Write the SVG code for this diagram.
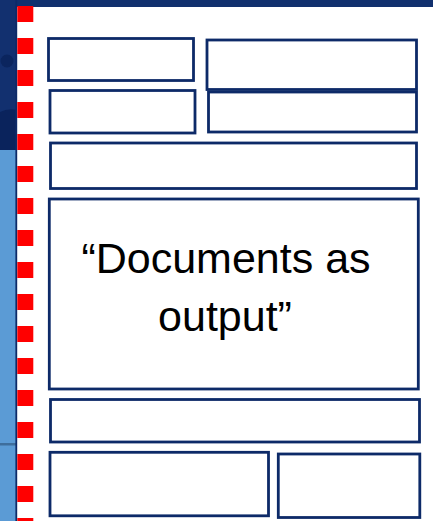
<svg xmlns="http://www.w3.org/2000/svg" width="433" height="521" viewBox="0 0 433 521">
  <style>
    .box { fill: #ffffff; stroke: #0d2a68; stroke-width: 2.8; }
    .label { font-family: "Liberation Sans", Arial, sans-serif; font-size: 43px; fill: #000000; text-anchor: middle; }
  </style>
  <g id="background">
    <rect x="0" y="0" width="433" height="521" fill="#ffffff"/>
    <rect x="0" y="0" width="433" height="7" fill="#11306e"/>
    <rect x="0" y="0" width="17" height="150" fill="#12306f"/>
    <path d="M0 112 Q8 108 17 110 L17 150 L0 150 Z" fill="#0a235c"/>
    <circle cx="7" cy="61" r="6.5" fill="#0b255e"/>
    <rect x="0" y="150" width="17" height="371" fill="#5b9bd5"/>
    <rect x="0" y="443" width="17" height="2.5" fill="#3e6e9c"/>
    <line x1="16.3" y1="0" x2="16.3" y2="521" stroke="#0d2a68" stroke-width="1.8"/>
    <line x1="25.3" y1="6" x2="25.3" y2="521" stroke="#ff0000" stroke-width="16" stroke-dasharray="16 16"/>
  </g>
  <g id="box-top-left"><rect class="box" x="48.5" y="38.5" width="145" height="42"/></g>
  <g id="box-top-right"><rect class="box" x="207" y="40" width="209.5" height="49.5"/></g>
  <g id="box-row2-left"><rect class="box" x="50" y="90.5" width="145" height="42.5"/></g>
  <g id="box-row2-right"><rect class="box" x="208.5" y="92" width="208" height="40"/></g>
  <g id="box-row3"><rect class="box" x="50.5" y="143" width="366" height="45.5"/></g>
  <g id="box-main">
    <rect class="box" x="49.3" y="199" width="369" height="190"/>
    <text class="label" x="226" y="273">“Documents as</text>
    <text class="label" x="225" y="331">output”</text>
  </g>
  <g id="box-row4"><rect class="box" x="50.5" y="399.5" width="369" height="42.5"/></g>
  <g id="box-bottom-left"><rect class="box" x="50" y="452.3" width="218.5" height="63.5"/></g>
  <g id="box-bottom-right"><rect class="box" x="278.3" y="454" width="141.5" height="63.5"/></g>
  <g id="connectors"></g>
</svg>
